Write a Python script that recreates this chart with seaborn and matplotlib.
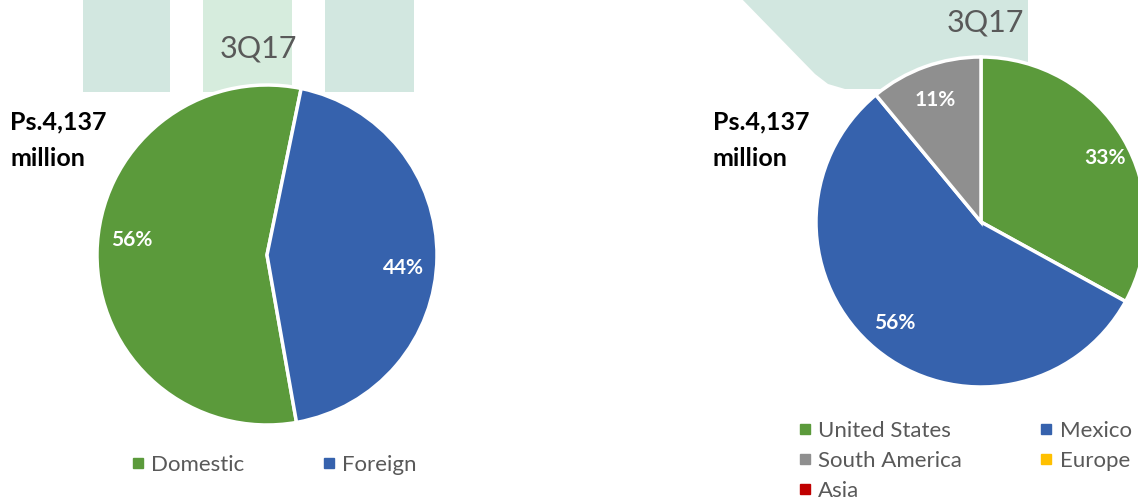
"""
Revenue split pies for 3Q17: domestic vs foreign, and by region
"""

import matplotlib
matplotlib.use("Agg")
import matplotlib.pyplot as plt
from matplotlib.patches import Rectangle, Polygon
from matplotlib.lines import Line2D
import seaborn as sns

# data
period = "3Q17"
total_label = "Ps.4,137\nmillion"

split_labels = ["Domestic", "Foreign"]
split_values = [56, 44]

region_labels = ["United States", "Mexico", "South America", "Europe", "Asia"]
region_values = [33, 56, 11, 0, 0]

GREEN = "#5b9a3b"
BLUE = "#3662ad"
GRAY = "#8f8f8f"
GOLD = "#ffc000"
RED = "#c00000"
split_colors = [GREEN, BLUE]
region_colors = [GREEN, BLUE, GRAY, GOLD, RED]

W, H = 1138, 499

sns.set_theme(style="white")
plt.rcParams["font.family"] = ["Lato", "DejaVu Sans"]

fig = plt.figure(figsize=(W / 100, H / 100), dpi=100)
fig.patch.set_facecolor("white")


def px_axes(x0, y0, x1, y1, **kw):
    """Axes from pixel box, y measured from top."""
    return fig.add_axes([x0 / W, 1 - y1 / H, (x1 - x0) / W, (y1 - y0) / H], **kw)


def px_text(x, y, s, **kw):
    fig.text(x / W, 1 - y / H, s, **kw)


# background decoration
bg = px_axes(0, 0, W, H)
bg.set_xlim(0, W)
bg.set_ylim(H, 0)
bg.axis("off")
for x0, x1, c in [(83, 170, "#d2e7e0"), (203, 292, "#d6ecdd"), (325, 414, "#d2e7e0")]:
    bg.add_patch(Rectangle((x0, -5), x1 - x0, 97, facecolor=c, edgecolor="none"))
bg.add_patch(Polygon([(738, -5), (1028, -5), (1028, 89), (845, 89), (828, 84), (815, 74)],
                     closed=True, facecolor="#d2e7e0", edgecolor="none"))

# pies
wedge_style = {"edgecolor": "white", "linewidth": 2.5}

ax1 = px_axes(97, 85, 437, 425)
ax1.pie(split_values, colors=split_colors, startangle=-80, counterclock=False,
        wedgeprops=wedge_style, radius=1)
ax1.set_xlim(-1, 1)
ax1.set_ylim(-1, 1)
ax1.set_aspect("auto")
ax1.axis("off")

# right pie: only non-zero slices drawn
shown = [(v, c) for v, c in zip(region_values, region_colors) if v > 0]
ax2 = px_axes(816, 57, 1146, 387)
ax2.pie([v for v, _ in shown], colors=[c for _, c in shown], startangle=90,
        counterclock=False, wedgeprops=wedge_style, radius=1)
ax2.set_xlim(-1, 1)
ax2.set_ylim(-1, 1)
ax2.set_aspect("auto")
ax2.axis("off")

# texts on top
px_text(258, 48, period, fontsize=22, color="#595959", ha="center", va="center")
px_text(985, 22, period, fontsize=22, color="#595959", ha="center", va="center")
for x in (10, 713):
    px_text(x, 140, total_label, fontsize=18, fontweight="bold", color="black",
            ha="left", va="center", linespacing=1.7)

pct_kw = dict(color="white", fontsize=15, fontweight="bold", ha="center", va="center")
for (x, y), v in zip([(132, 240), (403, 268)], split_values):
    px_text(x, y, f"{v}%", **pct_kw)
for (x, y), v in zip([(1105, 158), (895, 323), (935, 100)], region_values[:3]):
    px_text(x, y, f"{v}%", **pct_kw)


# legends
def square(c):
    return Line2D([], [], marker="s", linestyle="none", markersize=7,
                  markerfacecolor=c, markeredgecolor=c)


leg_kw = dict(frameon=False, fontsize=16, labelcolor="#595959", handletextpad=0.3,
              handlelength=0.6, borderaxespad=0, borderpad=0)
fig.legend([square(c) for c in split_colors], split_labels, ncol=2,
           loc="center left", bbox_to_anchor=(131 / W, 1 - 465 / H),
           columnspacing=3.5, **leg_kw)

# matplotlib fills legend columns first, reference reads row by row
order = [0, 2, 4, 1, 3]
fig.legend([square(region_colors[i]) for i in order], [region_labels[i] for i in order],
           ncol=2, loc="upper left", bbox_to_anchor=(798 / W, 1 - 421 / H),
           columnspacing=3.5, labelspacing=0.45, **leg_kw)

fig.savefig("out.png", dpi=100)
